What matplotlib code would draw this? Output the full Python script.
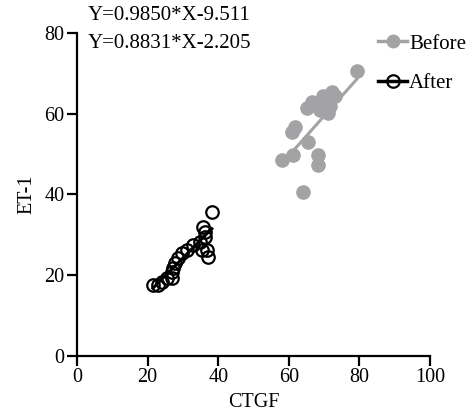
import matplotlib
matplotlib.use("Agg")
import matplotlib.pyplot as plt
from matplotlib.lines import Line2D
import numpy as np

plt.rcParams['font.family'] = ['Liberation Serif', 'DejaVu Serif']

before_x = [79.3, 72.2, 69.7, 66.6, 65.2, 71.7, 68.8, 71.1, 61.8, 60.9, 65.4, 61.2, 58.1, 68.3, 68.3, 64.0, 67.7, 73.1]
before_y = [70.5, 65.3, 64.5, 62.8, 61.5, 61.8, 61.0, 60.3, 56.6, 55.6, 52.9, 49.9, 48.6, 49.9, 47.4, 40.7, 62.5, 64.3]
after_x = [38.2, 35.7, 36.3, 36.3, 36.8, 37.1, 34.8, 32.9, 31.2, 29.7, 28.6, 27.8, 27.2, 26.9, 25.5, 26.9, 24.1, 21.5, 22.9, 35.4]
after_y = [35.7, 32.0, 30.8, 29.5, 26.3, 24.6, 28.3, 27.5, 26.3, 25.6, 24.3, 23.1, 21.8, 20.8, 19.4, 19.4, 18.4, 17.6, 17.6, 26.3]
before_fit = (0.9850, -9.511)
after_fit = (0.8831, -2.205)
eq_labels = ["Y=0.9850*X-9.511", "Y=0.8831*X-2.205"]
x_ticks = [0, 20, 40, 60, 80, 100]
y_ticks = [0, 20, 40, 60, 80]

gray = '#a3a3a6'
fig = plt.figure(figsize=(4.68, 4.18), dpi=100)
ax = fig.add_axes([77/468, 62/418, 353/468, 323/418])

bx = np.array([min(before_x), max(before_x)])
ax.plot(bx, before_fit[0]*bx + before_fit[1], color=gray, lw=2.2, zorder=2)
axx = np.array([min(after_x), max(after_x)])
ax.plot(axx, after_fit[0]*axx + after_fit[1], color='black', lw=2.2, zorder=2)

ax.plot(before_x, before_y, 'o', ls='none', ms=9.5, color=gray, mec=gray, zorder=3, clip_on=False)
ax.plot(after_x, after_y, 'o', ls='none', ms=9, mfc='none', mec='black', mew=1.6, zorder=4, clip_on=False)

ax.set_xlim(0, 100)
ax.set_ylim(0, 80)
ax.set_xticks(x_ticks)
ax.set_yticks(y_ticks)
for s in ['top', 'right']:
    ax.spines[s].set_visible(False)
for s in ['left', 'bottom']:
    ax.spines[s].set_linewidth(1.6)
ax.tick_params(axis='both', width=1.6, length=7, labelsize=14.5, pad=2)
ax.set_xlabel('CTGF', fontsize=14.5, labelpad=4)
ax.set_ylabel('ET-1', fontsize=14.5, labelpad=6)

fig.text(88/468, 1-16/418, eq_labels[0], fontsize=15, va='center', ha='left')
fig.text(88/468, 1-44/418, eq_labels[1], fontsize=15, va='center', ha='left')

handles = [Line2D([0], [0], color=gray, lw=2.5, marker='o', ms=9, mfc=gray, mec=gray),
           Line2D([0], [0], color='black', lw=2.5, marker='o', ms=9, mfc='none', mec='black', mew=1.6)]
leg = fig.legend(handles, ['Before', 'After'], loc='upper left', bbox_to_anchor=(378/468, 1-34/418),
                 frameon=False, fontsize=15, handlelength=1.4, handletextpad=0.1,
                 labelspacing=0.95, borderpad=0, borderaxespad=0)

fig.savefig('out.png', dpi=100)
